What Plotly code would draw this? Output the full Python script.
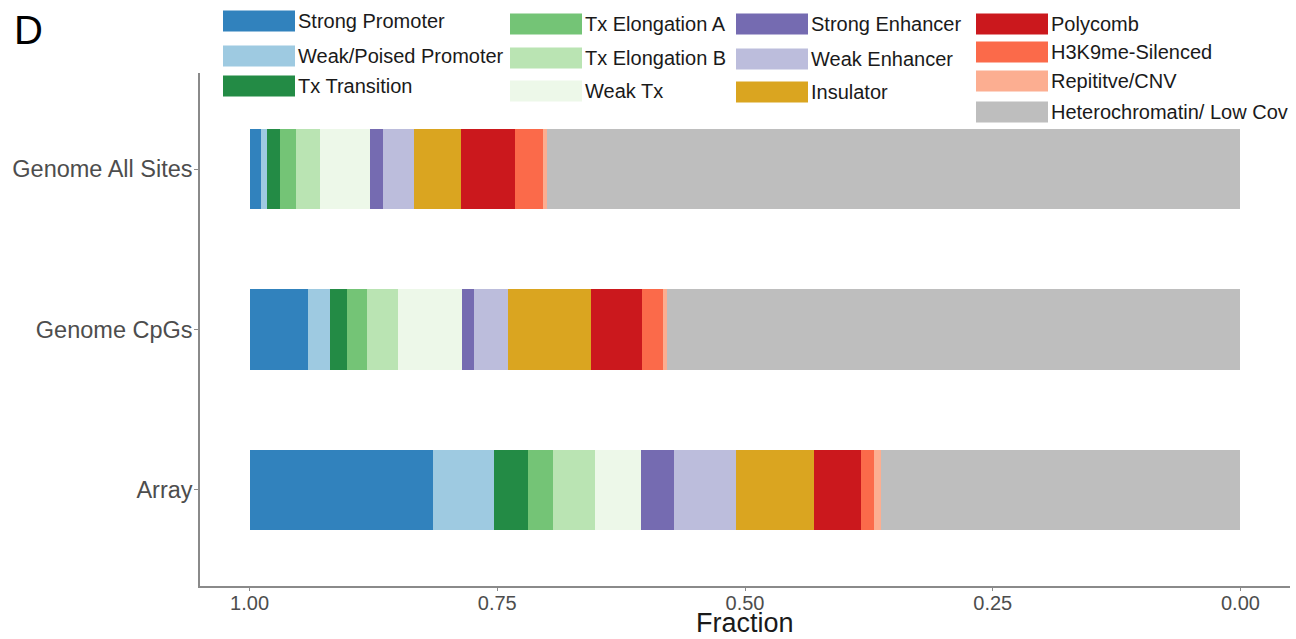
import plotly.graph_objects as go

# Chromatin state fractions per probe set
groups = ["Genome All Sites", "Genome CpGs", "Array"]

states = [
    "Strong Promoter", "Weak/Poised Promoter", "Tx Transition",
    "Tx Elongation A", "Tx Elongation B", "Weak Tx",
    "Strong Enhancer", "Weak Enhancer", "Insulator",
    "Polycomb", "H3K9me-Silenced", "Repititve/CNV",
    "Heterochromatin/ Low Cov",
]

genome_all_sites = [0.012, 0.0057, 0.0135, 0.016, 0.0235, 0.051,
                    0.0134, 0.031, 0.047, 0.055, 0.028, 0.0043, 0.6996]
genome_cpgs = [0.0587, 0.0225, 0.0168, 0.0205, 0.0316, 0.064,
               0.0127, 0.0337, 0.0838, 0.0515, 0.0212, 0.0046, 0.5784]
array = [0.1855, 0.0613, 0.0346, 0.0252, 0.0421, 0.0464,
         0.0336, 0.062, 0.079, 0.0474, 0.0131, 0.0068, 0.363]

colors = ["#3182bd", "#9ecae1", "#238b45", "#74c476", "#bae4b3", "#edf8e9",
          "#756bb1", "#bcbddc", "#daa520", "#cb181d", "#fb6a4a", "#fcae91",
          "#bebebe"]

tick_vals = [1.0, 0.75, 0.5, 0.25, 0.0]
tick_text = ["1.00", "0.75", "0.50", "0.25", "0.00"]

values = {g: v for g, v in zip(groups, [genome_all_sites, genome_cpgs, array])}

fig = go.Figure()
# stack from 0 upward; the reversed axis puts the first state next to 1.00
for i in reversed(range(len(states))):
    fig.add_trace(go.Bar(
        y=groups,
        x=[values[g][i] for g in groups],
        orientation="h",
        name=states[i],
        marker=dict(color=colors[i], line=dict(width=0)),
        width=0.5,
        showlegend=False,
        hovertemplate="%{y}<br>" + states[i] + ": %{x:.3f}<extra></extra>",
    ))

# panel edges in pixels
W, H = 1296, 639
PL, PR, PT, PB = 200, 1290, 73, 586


def px(x):
    return (x - PL) / (PR - PL)


def py(y):
    return (PB - y) / (PB - PT)


# legend laid out in four columns of coloured keys
legend_cols = [
    (223, [0, 1, 2], [21, 56, 86]),
    (510, [3, 4, 5], [24, 58, 91]),
    (736, [6, 7, 8], [24, 59, 92]),
    (976, [9, 10, 11, 12], [24, 52, 81, 112]),
]
shapes = []
annotations = []
for x0, idxs, ycs in legend_cols:
    for idx, yc in zip(idxs, ycs):
        shapes.append(dict(
            type="rect", xref="paper", yref="paper",
            x0=px(x0), x1=px(x0 + 72),
            y0=py(yc + 10.5), y1=py(yc - 10.5),
            fillcolor=colors[idx], line=dict(width=0), layer="above",
        ))
        annotations.append(dict(
            xref="paper", yref="paper",
            x=px(x0 + 73), y=py(yc),
            text=states[idx], showarrow=False, xanchor="left", yanchor="middle",
            font=dict(family="Liberation Sans", size=20, color="#1a1a1a"),
        ))

annotations.append(dict(
    xref="paper", yref="paper",
    x=px(12), y=py(30),
    text="D", showarrow=False, xanchor="left", yanchor="middle",
    font=dict(family="Liberation Sans", size=40, color="#000000"),
))

# axis title
annotations.append(dict(
    xref="paper", yref="paper",
    x=0.5, y=py(640), yanchor="bottom",
    text="Fraction", showarrow=False, xanchor="center",
    font=dict(family="Liberation Sans", size=27, color="#1a1a1a"),
))

fig.update_layout(
    barmode="stack",
    width=W, height=H,
    margin=dict(l=PL, r=W - PR, t=PT, b=H - PB),
    paper_bgcolor="white",
    plot_bgcolor="white",
    shapes=shapes,
    annotations=annotations,
    font=dict(family="Liberation Sans"),
    xaxis=dict(
        range=[1.05, -0.05],
        tickvals=tick_vals, ticktext=tick_text,
        showgrid=False, zeroline=False,
        showline=True, linecolor="#8a8a8a", linewidth=1.5,
        ticks="outside", ticklen=3, tickcolor="#8a8a8a", tickwidth=1,
        tickfont=dict(size=20, color="#4d4d4d"),
        ticklabelstandoff=-5,
        automargin=False,
    ),
    yaxis=dict(
        type="category",
        categoryarray=["Array", "Genome CpGs", "Genome All Sites"],
        range=[-0.6, 2.6],
        showgrid=False, zeroline=False,
        showline=True, linecolor="#8a8a8a", linewidth=1.5,
        ticks="outside", ticklen=4, tickcolor="#8a8a8a", tickwidth=1,
        tickfont=dict(size=23.5, color="#4d4d4d"),
        ticklabelstandoff=-3,
        automargin=False,
    ),
)

fig.write_html("out.html")
